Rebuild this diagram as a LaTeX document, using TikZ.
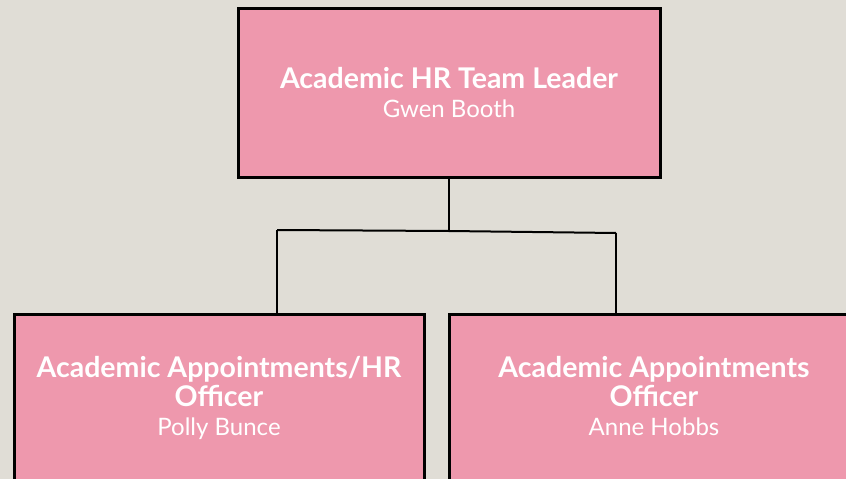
\documentclass[tikz,border=0pt]{standalone}
\usepackage{fontspec}
\setmainfont{Lato}
\usetikzlibrary{positioning}
\definecolor{bgpaper}{RGB}{224,221,214}
\definecolor{postpink}{RGB}{238,152,173}
\tikzstyle{post}=[rectangle,draw=black,line width=3pt,fill=postpink,text=white,align=center,inner sep=0pt,font=\fontsize{24}{29}\selectfont]
\tikzstyle{stem} = [draw,line width=1.5pt]
\tikzstyle{bar} = [draw,line width=2pt]
\tikzstyle{drop} = [draw,line width=2.5pt]
\newcommand{\role}[1]{\textbf{\fontsize{28.5}{29}\selectfont #1}}

\begin{document}
\begin{tikzpicture}[x=1pt,y=-1pt]

   \useasboundingbox (0,0) rectangle (846,479);
   \fill[bgpaper] (0,0) rectangle (846,479);
   \clip (0,0) rectangle (846,479);

% Posts
   \node[post,minimum width=422pt,minimum height=169pt] (leader) at (449,93)
        {\role{Academic HR Team Leader}\\Gwen Booth};
   \foreach \pos/\name/\label in {{(219,400)/apptHR/{\role{Academic Appointments/HR}\\\role{Officer}\\Polly Bunce\strut}},
                                  {(654,400)/appt/{\role{Academic Appointments}\\\role{Officer}\\Anne Hobbs\strut}}}
        \node[post,minimum width=410pt,minimum height=172pt] (\name) at \pos {\label};

% Connectors
   \coordinate (split) at (449,231);
   \coordinate (splitL) at (277,230);
   \coordinate (splitR) at (616,233);
   \path[stem] (leader.south) -- (split);
   \path[bar] (splitL) -- (split) -- (splitR);
   \foreach \source/\dest in {splitL/apptHR, splitR/appt}
        \path[drop] (\source) -- (\source |- \dest.north);

\end{tikzpicture}
\end{document}
